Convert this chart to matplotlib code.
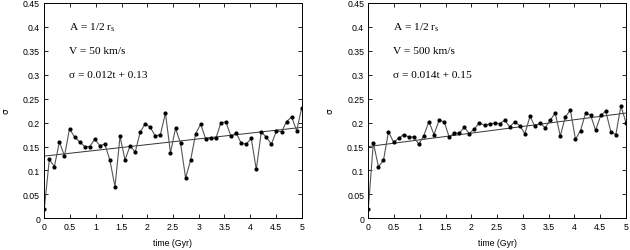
import numpy as np
import matplotlib
matplotlib.use("Agg")
import matplotlib.pyplot as plt
from matplotlib.ticker import FuncFormatter

plt.rcParams["mathtext.fontset"] = "custom"
plt.rcParams["mathtext.rm"] = "Liberation Serif"

# time in Gyr (52 snapshots)
time = [0.000, 0.098, 0.196, 0.294, 0.392, 0.490, 0.588, 0.686, 0.784, 0.882,
        0.980, 1.078, 1.176, 1.275, 1.373, 1.471, 1.569, 1.667, 1.765, 1.863,
        1.961, 2.059, 2.157, 2.255, 2.353, 2.451, 2.549, 2.647, 2.745, 2.843,
        2.941, 3.039, 3.137, 3.235, 3.333, 3.431, 3.529, 3.627, 3.725, 3.824,
        3.922, 4.020, 4.118, 4.216, 4.314, 4.412, 4.510, 4.608, 4.706, 4.804,
        4.902, 5.000]

sigma_v50 = [0.020, 0.123, 0.108, 0.160, 0.130, 0.187, 0.170, 0.160, 0.150, 0.150,
             0.165, 0.152, 0.155, 0.121, 0.066, 0.171, 0.122, 0.152, 0.138, 0.180,
             0.198, 0.190, 0.172, 0.175, 0.220, 0.137, 0.188, 0.157, 0.084, 0.122,
             0.177, 0.197, 0.165, 0.167, 0.167, 0.200, 0.201, 0.171, 0.179, 0.157,
             0.155, 0.167, 0.102, 0.181, 0.169, 0.155, 0.183, 0.181, 0.202, 0.212,
             0.183, 0.231]

sigma_v500 = [0.020, 0.158, 0.108, 0.121, 0.181, 0.159, 0.167, 0.175, 0.170, 0.170,
              0.155, 0.173, 0.202, 0.175, 0.205, 0.202, 0.170, 0.178, 0.178, 0.190,
              0.177, 0.187, 0.200, 0.194, 0.197, 0.199, 0.198, 0.205, 0.191, 0.202,
              0.193, 0.177, 0.213, 0.192, 0.200, 0.189, 0.205, 0.220, 0.172, 0.212,
              0.226, 0.165, 0.183, 0.220, 0.215, 0.184, 0.215, 0.224, 0.181, 0.175,
              0.235, 0.200]

# linear fits sigma = slope * t + intercept
fit_v50 = (0.012, 0.13)
fit_v500 = (0.014, 0.15)

labels_v50 = ["A = 1/2 $\\mathrm{r}_\\mathrm{s}$", "V = 50 km/s", "\u03c3 = 0.012t + 0.13"]
labels_v500 = ["A = 1/2 $\\mathrm{r}_\\mathrm{s}$", "V = 500 km/s", "\u03c3 = 0.014t + 0.15"]

xticks = [0, 0.5, 1, 1.5, 2, 2.5, 3, 3.5, 4, 4.5, 5]
yticks = [0, 0.05, 0.1, 0.15, 0.2, 0.25, 0.3, 0.35, 0.4, 0.45]


def trim(v, pos):
    return ("%.2f" % v).rstrip("0").rstrip(".")


def draw_panel(ax, sigma, fit, labels):
    ax.plot(time, sigma, color="#555555", lw=0.8, zorder=2)
    ax.plot(time, sigma, "o", color="black", ms=2.0, zorder=3)
    t_fit = np.array([time[0], time[-1]])
    ax.plot(t_fit, fit[0] * t_fit + fit[1], color="#333333", lw=0.7, zorder=1)

    ax.set_xlim(0, 5)
    ax.set_ylim(0, 0.45)
    ax.set_xticks(xticks)
    ax.set_yticks(yticks)
    ax.xaxis.set_major_formatter(FuncFormatter(trim))
    ax.yaxis.set_major_formatter(FuncFormatter(trim))
    ax.tick_params(direction="in", top=True, right=True, length=3, width=0.6,
                   labelsize=6.3, pad=3)
    for lab in ax.get_xticklabels() + ax.get_yticklabels():
        lab.set_fontfamily("Liberation Sans")
    for sp in ax.spines.values():
        sp.set_linewidth(0.7)

    ax.set_xlabel("time (Gyr)", fontsize=6.3, family="Liberation Sans", labelpad=5)
    ax.set_ylabel("\u03c3", fontsize=6.3, family="DejaVu Sans", rotation=90)
    ax.yaxis.set_label_coords(-0.13, 0.5)

    for y, s in zip([0.40, 0.35, 0.30], labels):
        ax.text(0.48, y, s, fontsize=8.2, family="Liberation Serif",
                ha="left", va="center")


fig = plt.figure(figsize=(6.3, 2.51), dpi=100)
ax1 = fig.add_axes([0.0703, 0.1263, 0.4086, 0.8578])
ax2 = fig.add_axes([0.5846, 0.1263, 0.4090, 0.8578])

draw_panel(ax1, sigma_v50, fit_v50, labels_v50)
draw_panel(ax2, sigma_v500, fit_v500, labels_v500)

fig.savefig("out.png", dpi=100)
